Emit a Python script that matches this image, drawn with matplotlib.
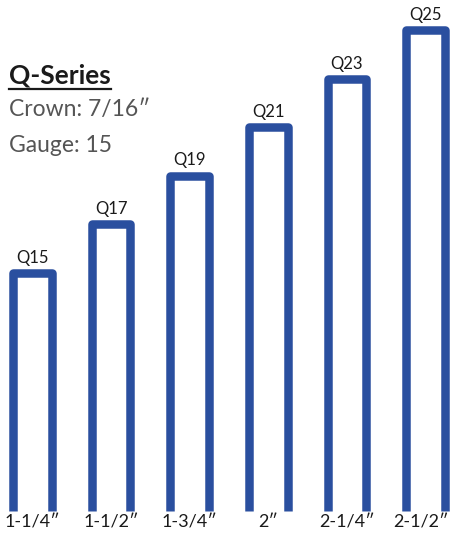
import matplotlib
matplotlib.use("Agg")
import matplotlib.pyplot as plt
from matplotlib.lines import Line2D

# staple data
models = ["Q15", "Q17", "Q19", "Q21", "Q23", "Q25"]
lengths = [1.25, 1.5, 1.75, 2.0, 2.25, 2.5]
length_labels = ["1-1/4\u2033", "1-1/2\u2033", "1-3/4\u2033", "2\u2033", "2-1/4\u2033", "2-1/2\u2033"]

title = "Q-Series"
specs = ["Crown: 7/16\u2033", "Gauge: 15"]

blue = "#2a4f9f"
font = ["Lato", "DejaVu Sans"]

W, H = 451, 534
fig = plt.figure(figsize=(W / 100, H / 100), dpi=100)
ax = fig.add_axes([0, 0, 1, 1])
ax.axis("off")

# pixel mapping: center x = 32.5 + 78.6*i, y=0 at 23 px from bottom, 194 px per inch
px_x = 78.6
px_y = 194.0
ax.set_xlim(-32.5 / px_x, (W - 32.5) / px_x)
ax.set_ylim(-23 / px_y, (H - 23) / px_y)

stroke = 8.5  # px
half_w = (47 - stroke) / 2 / px_x
top_off = stroke / 2 / px_y

for i, (m, h) in enumerate(zip(models, lengths)):
    xs = [i - half_w, i - half_w, i + half_w, i + half_w]
    ys = [0, h - top_off, h - top_off, 0]
    ax.plot(xs, ys, color=blue, lw=stroke * 72 / 100,
            solid_joinstyle="round", solid_capstyle="butt")
    ax.text(i, h + 3 / px_y, m, ha="center", va="bottom", fontsize=12,
            color="#1a1a1a", family=font)
    # last label sits flush with the right edge of its staple
    if i == len(models) - 1:
        ax.text(i + half_w + stroke / 2 / px_x, -3 / px_y, length_labels[i],
                ha="right", va="top", fontsize=13, color="#1a1a1a", family=font)
    else:
        ax.text(i, -3 / px_y, length_labels[i], ha="center", va="top", fontsize=13,
                color="#1a1a1a", family=font)

t = fig.text(9 / W, 1 - 84 / H, title, ha="left", va="baseline", fontsize=19,
             fontweight="bold", color="#1a1a1a", family=font)
fig.text(9 / W, 1 - 116 / H, specs[0], ha="left", va="baseline", fontsize=16.5,
         color="#555555", family=font)
fig.text(9 / W, 1 - 152 / H, specs[1], ha="left", va="baseline", fontsize=16.5,
         color="#555555", family=font)

# underline for title
fig.canvas.draw()
bb = t.get_window_extent()
uy = (H - 88.5) / H
fig.add_artist(Line2D([bb.x0 / W, bb.x1 / W], [uy, uy], transform=fig.transFigure,
                      color="#1a1a1a", lw=1.6))

fig.savefig("out.png", dpi=100)
